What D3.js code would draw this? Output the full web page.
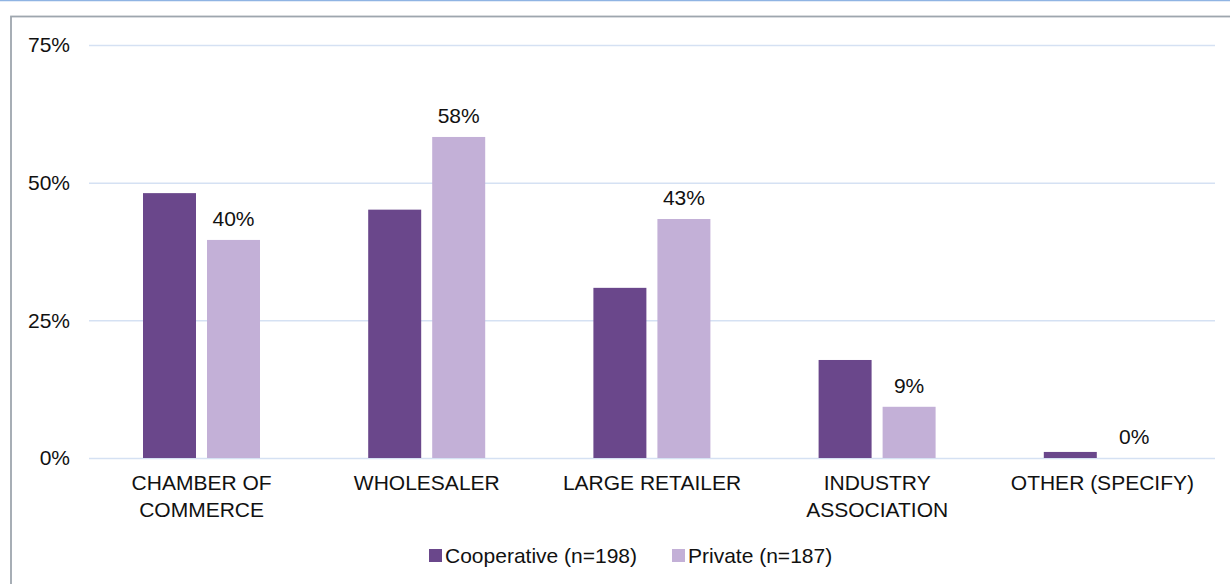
<!DOCTYPE html>
<html>
<head>
<meta charset="utf-8">
<script src="https://cdn.jsdelivr.net/npm/d3@7/dist/d3.min.js"></script>
<style>
  html, body { margin: 0; padding: 0; background: #fff; }
  svg { display: block; }
  text { font-family: "Liberation Sans", Arial, sans-serif; fill: #111; }
</style>
</head>
<body>
<svg id="chart" width="1230" height="584"></svg>
<script>
// Survey responses by organisation type, split by business model
const categories = [["CHAMBER OF", "COMMERCE"], ["WHOLESALER"], ["LARGE RETAILER"], ["INDUSTRY", "ASSOCIATION"], ["OTHER (SPECIFY)"]];
const seriesNames = ["Cooperative (n=198)", "Private (n=187)"];
const cooperative = [0.481, 0.451, 0.309, 0.178, 0.011];
const privateVals = [0.396, 0.583, 0.434, 0.093, 0.0];
const yTicks = [0, 0.25, 0.5, 0.75];
const colors = ["#6a478b", "#c3b0d7"];

const W = 1230, H = 584;
const svg = d3.select("#chart");

// frame lines
svg.append("line").attr("x1", 0).attr("x2", W).attr("y1", 0.5).attr("y2", 0.5)
  .attr("stroke", "#8fb4e3").attr("stroke-width", 1.5);
svg.append("rect").attr("x", 11).attr("y", 16.5).attr("width", W + 10).attr("height", H)
  .attr("fill", "none").attr("stroke", "#9ea6ae").attr("stroke-width", 1.8);

const plotLeft = 89, plotRight = 1215, plotTop = 45, plotBottom = 458;

const x0 = d3.scaleBand().domain(d3.range(categories.length)).range([plotLeft, plotRight]).padding(0);
const x1 = d3.scaleBand().domain([0, 1]).range([54, 171]).paddingInner(0.172).paddingOuter(0);
const y = d3.scaleLinear().domain([0, 0.75]).range([plotBottom, plotTop]);

// gridlines and y labels
const yAxis = d3.axisLeft(y).tickValues(yTicks).tickFormat(d3.format(".0%"))
  .tickSize(-(plotRight - plotLeft)).tickPadding(19);
const gy = svg.append("g").attr("transform", `translate(${plotLeft},0)`).call(yAxis);
gy.select(".domain").remove();
gy.selectAll(".tick line").attr("stroke", "#d5e1f3").attr("stroke-width", 1.5);
gy.selectAll(".tick text").attr("font-size", 21).attr("fill", "#111")
  .attr("font-family", "Liberation Sans, Arial, sans-serif");

// bars
const series = [cooperative, privateVals];
const groups = svg.append("g").selectAll("g").data(categories).join("g")
  .attr("transform", (d, i) => `translate(${x0(i)},0)`);

groups.each(function(d, i) {
  const g = d3.select(this);
  series.forEach((vals, s) => {
    g.append("rect")
      .attr("x", x1(s))
      .attr("width", x1.bandwidth())
      .attr("y", y(vals[i]))
      .attr("height", plotBottom - y(vals[i]))
      .attr("fill", colors[s]);
  });
  // value labels on the private series
  g.append("text")
    .attr("x", x1(1) + x1.bandwidth() / 2)
    .attr("y", y(privateVals[i]) - 14)
    .attr("text-anchor", "middle")
    .attr("font-size", 21)
    .text(d3.format(".0%")(privateVals[i]));
});

// category labels
const xl = svg.append("g").selectAll("text").data(categories).join("text")
  .attr("x", (d, i) => x0(i) + x0.bandwidth() / 2)
  .attr("y", 490)
  .attr("text-anchor", "middle")
  .attr("font-size", 21);
xl.each(function(lines) {
  const t = d3.select(this);
  lines.forEach((ln, k) => {
    t.append("tspan").attr("x", t.attr("x")).attr("dy", k === 0 ? 0 : 26.5).text(ln);
  });
});

// legend
const legendItems = [
  { name: seriesNames[0], color: colors[0], x: 429 },
  { name: seriesNames[1], color: colors[1], x: 672 }
];
const lg = svg.append("g").selectAll("g").data(legendItems).join("g")
  .attr("transform", d => `translate(${d.x},0)`);
lg.append("rect").attr("x", 0).attr("y", 549).attr("width", 13).attr("height", 13)
  .attr("fill", d => d.color);
lg.append("text").attr("x", 16).attr("y", 562.5).attr("font-size", 21).text(d => d.name);
</script>
</body>
</html>
